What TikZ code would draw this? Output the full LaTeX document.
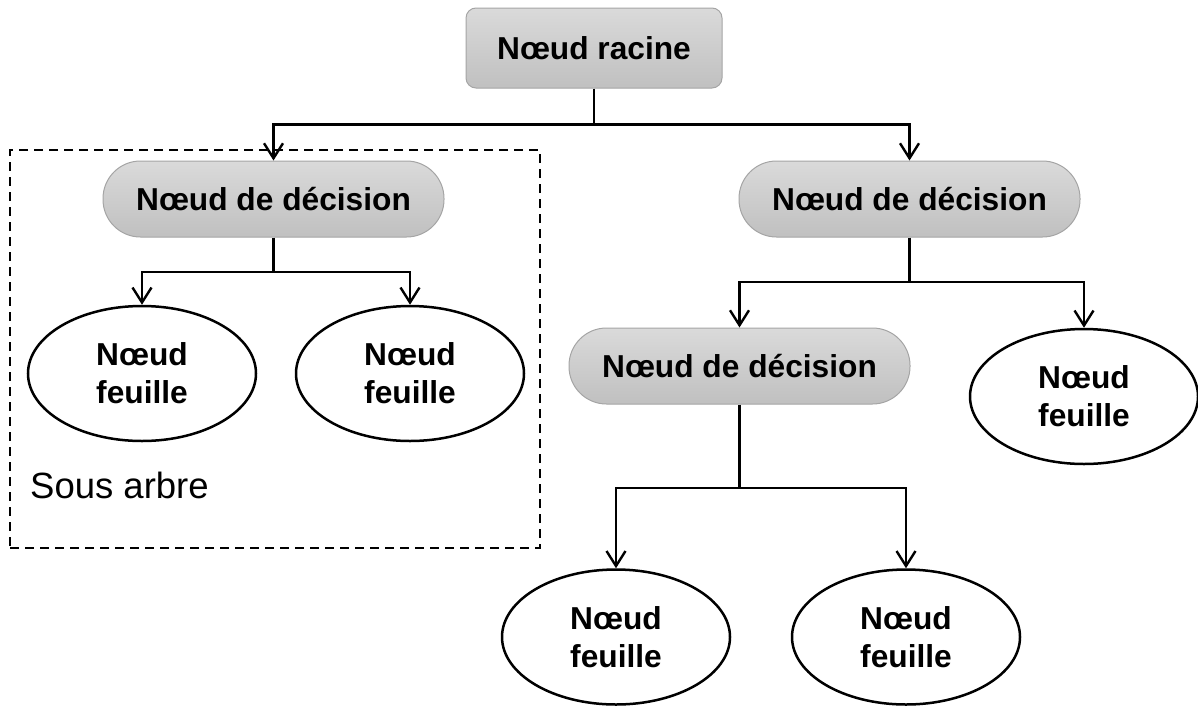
\documentclass[tikz,border=0pt]{standalone}
\usepackage{fontspec}
\setmainfont{Liberation Sans}
\usetikzlibrary{arrows.meta,shapes.geometric}
\definecolor{gtop}{RGB}{218,218,218}
\definecolor{gbot}{RGB}{192,192,192}
\definecolor{gborder}{RGB}{165,165,165}
\begin{document}
\begin{tikzpicture}[x=1pt,y=-1pt,
  lbl/.style={font=\bfseries\fontsize{31.7}{38}\selectfont, text=black, align=center},
  rootbox/.style={lbl, rectangle, rounded corners=10pt, draw=gborder, line width=1pt,
    top color=gtop, bottom color=gbot, minimum width=256pt, minimum height=80pt, inner sep=0pt},
  decbox/.style={lbl, rectangle, rounded corners=37.5pt, draw=gborder, line width=1pt,
    top color=gtop, bottom color=gbot, minimum width=341pt, minimum height=76pt, inner sep=0pt},
  leaf/.style={lbl, ellipse, draw=black, line width=2.5pt, fill=white,
    minimum width=228pt, minimum height=135pt, inner sep=0pt},
  subbox/.style={draw=black, line width=2.6pt, dash pattern=on 9pt off 6pt,
    minimum width=530pt, minimum height=398pt, inner sep=0pt},
  conn/.style={line width=2.4pt, line join=miter,
    -{Straight Barb[length=15pt,width=19pt,line width=2.4pt]}},
  plain/.style={line width=2.4pt},
]
\useasboundingbox (0,0) rectangle (1198,707);

\node[subbox] (sub) at (275,349) {};
\node[anchor=base west, inner sep=0pt, font=\fontsize{36.5}{44}\selectfont] (lab) at (30,498) {Sous arbre};

\node[rootbox] (root) at (594,48) {Nœud racine};
\node[decbox] (d1) at (273.5,199) {Nœud de décision};
\node[decbox] (d2) at (909.5,199) {Nœud de décision};
\node[decbox] (d3) at (739.5,366) {Nœud de décision};

\node[leaf] (l1) at (142,373.5) {Nœud\\feuille};
\node[leaf] (l2) at (410,373.5) {Nœud\\feuille};
\node[leaf] (l3) at (1084,396.5) {Nœud\\feuille};
\node[leaf] (l4) at (616,637) {Nœud\\feuille};
\node[leaf] (l5) at (906,637) {Nœud\\feuille};

\coordinate (j0) at (root.south |- 0,124.5);
\coordinate (j1) at (d1.south |- 0,272);
\coordinate (j2) at (d2.south |- 0,282);
\coordinate (j3) at (d3.south |- 0,488);

\draw[plain] (root.south) -- (j0);
\draw[conn] (j0) -| (d1.north);
\draw[conn] (j0) -| (d2.north);
\draw[plain] (d1.south) -- (j1);
\draw[conn] (j1) -| (l1.north);
\draw[conn] (j1) -| (l2.north);
\draw[plain] (d2.south) -- (j2);
\draw[conn] (j2) -| (d3.north);
\draw[conn] (j2) -| (l3.north);
\draw[plain] (d3.south) -- (j3);
\draw[conn] (j3) -| (l4.north);
\draw[conn] (j3) -| (l5.north);
\end{tikzpicture}
\end{document}
